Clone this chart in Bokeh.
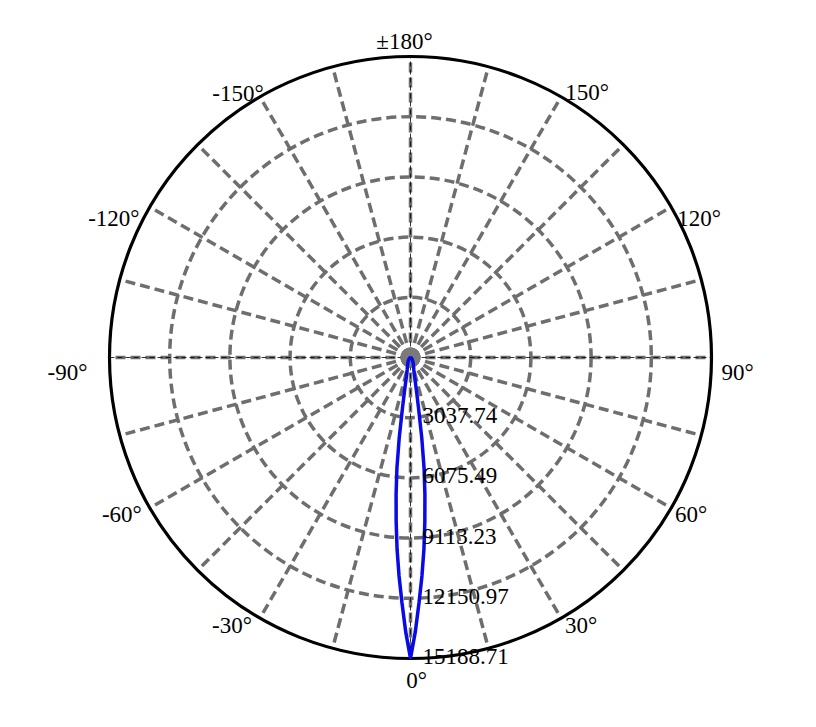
import numpy as np
from bokeh.plotting import figure
from bokeh.models import Range1d, ColumnDataSource
from bokeh.core.properties import value
from bokeh.embed import file_html
from bokeh.resources import INLINE

# ---- data ----
ring_values = [3037.74, 6075.49, 9113.23, 12150.97, 15188.71]
ring_labels = ["3037.74", "6075.49", "9113.23", "12150.97", "15188.71"]
angle_ticks = [180, 150, 120, 90, 60, 30, 0, -30, -60, -90, -120, -150]
angle_labels = ["±180°", "150°", "120°", "90°", "60°", "30°", "0°",
                "-30°", "-60°", "-90°", "-120°", "-150°"]
curve_angles = [-90, -80, -70, -60, -50, -40, -30, -25, -20, -15, -12, -11, -10,
                -9, -8, -7, -6, -5, -4, -3, -2, -1, 0,
                1, 2, 3, 4, 5, 6, 7, 8, 9, 10, 11, 12, 15, 20, 25, 30, 40, 50,
                60, 70, 80, 90]
curve_values = [0, 5, 20, 40, 80, 140, 240, 330, 450, 650, 1000, 1300, 1800,
                2600, 4080, 5620, 6960, 8300, 9710, 11040, 12370, 13850, 15188.71,
                13850, 12370, 11040, 9710, 8300, 6960, 5620, 4080, 2600, 1800, 1300,
                1000, 650, 450, 330, 240, 140, 80, 40, 20, 5, 0]

# ---- layout ----
W, H = 808, 719
R = ring_values[-1]
R_PX = 301.0
k = R / R_PX
cx_px, cy_px = 410, 357

p = figure(width=W, height=H, output_backend="svg", toolbar_location=None,
           x_axis_type=None, y_axis_type=None, min_border=0,
           x_range=Range1d(-cx_px * k, (W - cx_px) * k),
           y_range=Range1d(-(H - cy_px) * k, cy_px * k))
p.outline_line_color = None
p.grid.visible = False
p.background_fill_color = "white"
p.border_fill_color = "white"

GRAY = "#6e6e6e"
FONT = value("Liberation Serif")

# dashed rings
p.circle(x=[0] * 4, y=[0] * 4, radius=ring_values[:-1], fill_color=None,
         line_color=GRAY, line_width=3.5, line_dash="10 5")

# radial lines every 15 degrees
spokes = np.arange(0, 360, 15)
th = np.deg2rad(spokes)
p.segment(x0=np.zeros_like(th), y0=np.zeros_like(th),
          x1=R * np.sin(th), y1=-R * np.cos(th),
          line_color=GRAY, line_width=3.5, line_dash="10 5")

# thin black dashed diameters
p.segment(x0=[-R, 0], y0=[0, -R], x1=[R, 0], y1=[0, R],
          line_color="black", line_width=0.8, line_dash="5 3")

# outer circle
p.circle(x=[0], y=[0], radius=[R], fill_color=None, line_color="black", line_width=3.2)

# center disk
p.circle(x=[0], y=[0], radius=[10 * k], fill_color="#7a7a7a", line_color=None)

# intensity curve
ca = np.deg2rad(np.array(curve_angles, dtype=float))
cv = np.array(curve_values, dtype=float)
p.line(x=cv * np.sin(ca), y=-cv * np.cos(ca), line_color="#0a0ae6", line_width=3.5)

# ring labels
p.text(x=[0] * 5, y=[-v for v in ring_values], text=ring_labels,
       text_font=FONT, text_font_size="23px", text_color="black",
       text_align="left", text_baseline="middle", x_offset=12, y_offset=-2)

# angle labels
at = np.deg2rad(np.array(angle_ticks, dtype=float))
dx = [-6, 26, 28, 26, 20, 20, 6, -28, -28, -42, -36, -22]
dy = [-15, -4, 11, 15, 6, 7, 22, 7, 6, 15, 11, -3]
src = ColumnDataSource(dict(x=R * np.sin(at), y=-R * np.cos(at), t=angle_labels,
                            dx=dx, dy=dy))
p.text(x="x", y="y", text="t", source=src, x_offset="dx", y_offset="dy",
       text_font=FONT, text_font_size="23px", text_color="black",
       text_align="center", text_baseline="middle")

open("out.html", "w").write(file_html(p, INLINE))
